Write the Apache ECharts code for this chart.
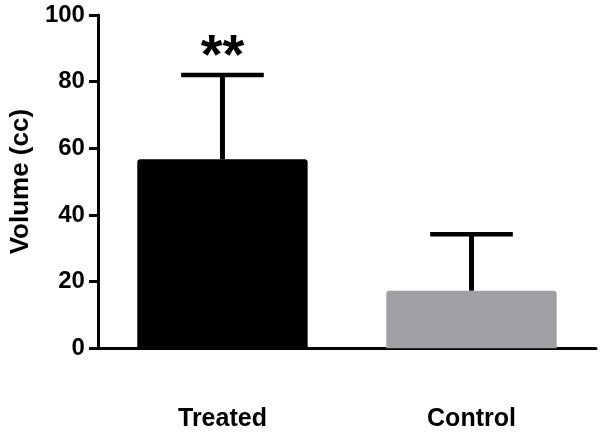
<!DOCTYPE html>
<html>
<head>
<meta charset="utf-8">
<script src="https://cdn.jsdelivr.net/npm/echarts@6/dist/echarts.min.js"></script>
<style>
html,body{margin:0;padding:0;background:#fff;}
#main{width:602px;height:433px;}
</style>
</head>
<body>
<div id="main"></div>
<script>
var categories = ['Treated', 'Control'];
var means = [56.7, 17.3];
var errors = [25.3, 16.9];
var marks = ['**', ''];
var barColors = ['#000000', '#a09fa4'];
var yTicks = [0, 20, 40, 60, 80, 100];

var FONT = '"Liberation Sans", Arial, sans-serif';
var chart = echarts.init(document.getElementById('main'), null, {renderer: 'canvas'});

var errData = categories.map(function (c, i) { return [i, means[i], means[i] + errors[i], marks[i]]; });

chart.setOption({
  animation: false,
  backgroundColor: '#ffffff',
  grid: {left: 95, right: 6, top: 15, bottom: 84.7},
  xAxis: {
    type: 'category',
    data: categories,
    axisLine: {lineStyle: {color: '#000', width: 3}},
    axisTick: {alignWithLabel: true, length: 9, lineStyle: {color: '#000', width: 3}},
    axisLabel: {color: '#000', fontFamily: FONT, fontWeight: 'bold', fontSize: 25, margin: 58}
  },
  yAxis: {
    type: 'value',
    min: yTicks[0],
    max: yTicks[yTicks.length - 1],
    interval: yTicks[1] - yTicks[0],
    name: 'Volume (cc)',
    nameLocation: 'middle',
    nameGap: 62,
    nameTextStyle: {color: '#000', fontFamily: FONT, fontWeight: 'bold', fontSize: 26},
    axisLine: {show: true, lineStyle: {color: '#000', width: 3}},
    axisTick: {show: true, length: 9, lineStyle: {color: '#000', width: 3}},
    splitLine: {show: false},
    axisLabel: {color: '#000', fontFamily: FONT, fontWeight: 'bold', fontSize: 24, margin: 13}
  },
  series: [
    {
      type: 'bar',
      barWidth: '68.4%',
      data: means.map(function (v, i) {
        return {value: v, itemStyle: {color: barColors[i], borderRadius: [3, 3, 0, 0]}};
      }),
      z: 2
    },
    {
      type: 'custom',
      data: errData,
      z: 3,
      renderItem: function (params, api) {
        var i = api.value(0);
        var base = api.coord([i, api.value(1)]);
        var top = api.coord([i, api.value(2)]);
        var bw = api.size([1, 0])[0];
        var half = bw * 0.166;
        var children = [
          {type: 'line', shape: {x1: base[0], y1: base[1], x2: top[0], y2: top[1]},
           style: {stroke: '#000', lineWidth: 5}},
          {type: 'line', shape: {x1: top[0] - half, y1: top[1], x2: top[0] + half, y2: top[1]},
           style: {stroke: '#000', lineWidth: 4.5}}
        ];
        var m = errData[params.dataIndex][3];
        if (m) {
          children.push({type: 'text', x: top[0], y: top[1] + 11,
            style: {text: m, fill: '#000', font: 'bold 56px ' + FONT, textAlign: 'center', textVerticalAlign: 'bottom'}});
        }
        return {type: 'group', children: children};
      }
    }
  ]
});
</script>
</body>
</html>
